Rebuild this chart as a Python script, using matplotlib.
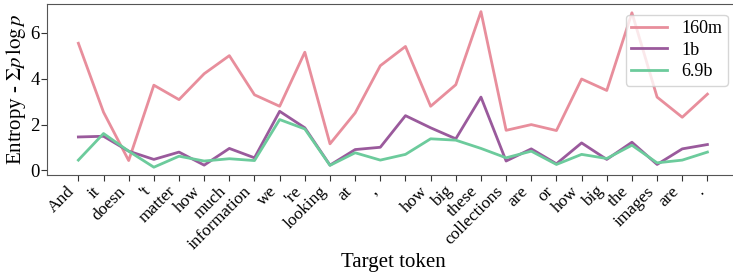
import numpy as np
from matplotlib import pyplot as plt

# Target tokens (one token is a blank / whitespace token)
tokens = ["And", "it", "doesn", "'t", "matter", "how", "much", "information",
          "we", "'re", "looking", "at", ",", "", "how", "big", "these",
          "collections", "are", "or", "how", "big", "the", "images", "are", "."]

# Entropy per token for each model size
ent_160m = [5.55, 2.54, 0.43, 3.72, 3.09, 4.22, 5.01, 3.30, 2.80, 5.16, 1.16,
            2.51, 4.57, 5.41, 2.80, 3.74, 6.93, 1.75, 2.00, 1.74, 3.99, 3.49,
            6.88, 3.20, 2.32, 3.33]
ent_1b = [1.46, 1.49, 0.84, 0.48, 0.80, 0.23, 0.96, 0.55, 2.58, 1.86, 0.23,
          0.91, 1.01, 2.39, 1.86, 1.38, 3.20, 0.41, 0.94, 0.29, 1.20, 0.48,
          1.23, 0.26, 0.94, 1.13]
ent_69b = [0.45, 1.61, 0.84, 0.14, 0.62, 0.41, 0.51, 0.43, 2.22, 1.81, 0.22,
           0.77, 0.45, 0.70, 1.38, 1.32, 0.96, 0.55, 0.84, 0.26, 0.70, 0.52,
           1.10, 0.33, 0.45, 0.80]

model_names = ["160m", "1b", "6.9b"]
colors = ["#e88e9c", "#9a5a9c", "#6ccb9c"]

plt.rcParams['font.family'] = ['Liberation Serif', 'DejaVu Serif']
plt.rcParams['mathtext.fontset'] = 'stix'

fig = plt.figure(figsize=(7.33, 2.76), dpi=100)
ax = fig.add_axes([0.064, 0.366, 0.944, 0.62])

x = np.arange(len(tokens))
for vals, name, c in zip([ent_160m, ent_1b, ent_69b], model_names, colors):
    ax.plot(x, vals, color=c, lw=2.0, label=name)

ax.set_xlim(-1.25, len(tokens) - 1 + 1.25)
ax.set_xticks(x)
ax.set_xticklabels(tokens, rotation=45, ha='right', fontsize=12.5)
ax.set_yticks([0, 2, 4, 6])
ax.tick_params(axis='y', labelsize=13.5, pad=1)
ax.tick_params(axis='x', pad=2)
ax.tick_params(colors='#333333', length=4)
ax.tick_params(labelcolor='black')
for s in ax.spines.values():
    s.set_color('#555555')

ax.set_xlabel("Target token", fontsize=15, labelpad=0)
ax.set_ylabel(r"Entropy - $\Sigma p\,\log p$", fontsize=15, labelpad=2)
ax.legend(loc='upper right', fontsize=13, borderpad=0.3, labelspacing=0.25,
          handlelength=2.0, borderaxespad=0.6)

fig.savefig("out.png", dpi=100)
